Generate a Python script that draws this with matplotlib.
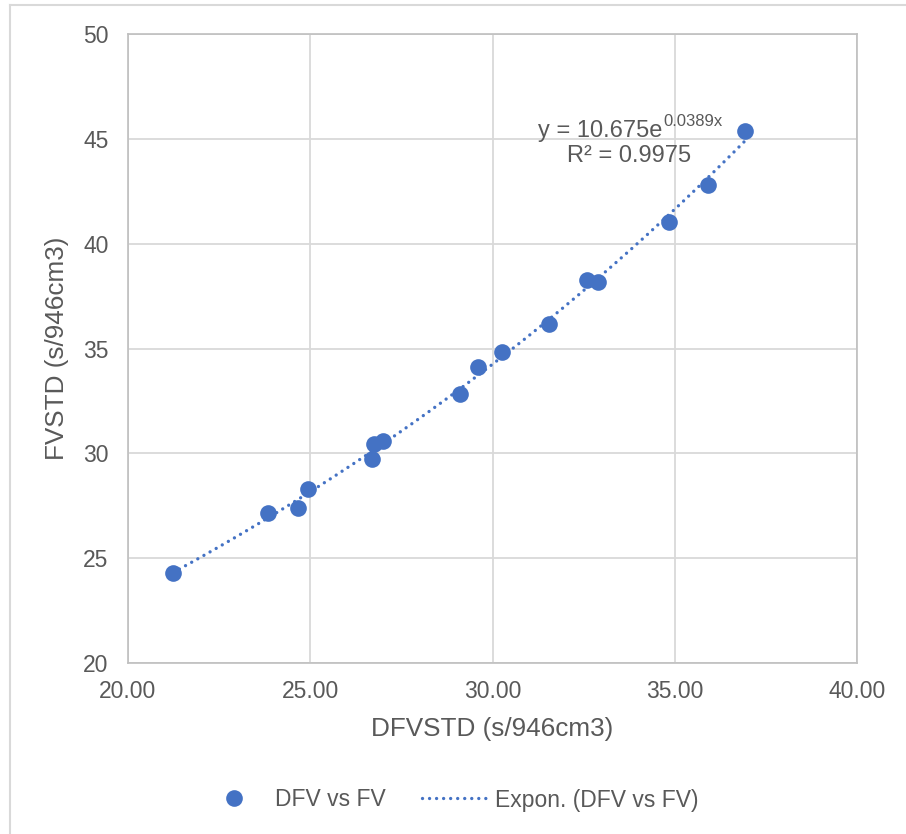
import numpy as np
import matplotlib
matplotlib.use("Agg")
import matplotlib.pyplot as plt
from matplotlib.lines import Line2D

plt.rcParams['font.family'] = ['Liberation Sans', 'DejaVu Sans']

# Data
dfv_std = [21.24, 23.85, 24.66, 24.93, 26.70, 26.75, 27.00, 29.11, 29.61,
           30.27, 31.56, 32.58, 32.90, 34.84, 35.91, 36.93]
fv_std = [24.28, 27.14, 27.38, 28.28, 29.71, 30.43, 30.60, 32.83, 34.10,
          34.83, 36.17, 38.26, 38.18, 41.03, 42.79, 45.37]
x_ticks = [20, 25, 30, 35, 40]
y_ticks = [20, 25, 30, 35, 40, 45, 50]
eq_base = "y = 10.675e"
eq_exp = "0.0389x"
r2_text = "R² = 0.9975"

blue = "#4472C4"
txt = "#595959"
grid = "#D9D9D9"

W, H = 906, 834
fig = plt.figure(figsize=(W/100, H/100), dpi=100)
ax = fig.add_axes([128/W, 1-663/H, (857-128)/W, (663-34)/H])

x = np.array(dfv_std)
y = np.array(fv_std)
# Exponential trendline (least squares on log y, like Excel)
b, ln_a = np.polyfit(x, np.log(y), 1)
xt = np.linspace(x.min(), x.max(), 300)
yt = np.exp(ln_a) * np.exp(b * xt)

ax.plot(x, y, 'o', color=blue, markersize=12, markeredgewidth=0, zorder=3,
        label="DFV vs FV")
ax.plot(xt, yt, color=blue, linewidth=2.4, linestyle=(0, (0.01, 2.1)),
        dash_capstyle='round', zorder=2, label="Expon. (DFV vs FV)")

ax.set_xlim(20, 40)
ax.set_ylim(20, 50)
ax.set_xticks(x_ticks)
ax.set_yticks(y_ticks)
ax.set_xticklabels([f"{v:.2f}" for v in x_ticks])
ax.set_yticklabels([str(v) for v in y_ticks])
ax.grid(True, color=grid, linewidth=1.3)
ax.set_axisbelow(True)
for s in ax.spines.values():
    s.set_color("#BFBFBF")
    s.set_linewidth(1.2)
ax.tick_params(length=0, labelsize=16.5, colors=txt, pad=14)
ax.tick_params(axis='x', pad=12)

ax.set_xlabel("DFVSTD (s/946cm3)", fontsize=18.8, color=txt, labelpad=10)
ax.set_ylabel("FVSTD (s/946cm3)", fontsize=18.8, color=txt, labelpad=10)

def fxy(xp, yp):
    return (xp / W, 1 - yp / H)

fig.text(*fxy(538, 131), eq_base, fontsize=17, color=txt,
         ha='left', va='center')
fig.text(*fxy(663, 122), eq_exp, fontsize=12, color=txt,
         ha='left', va='center')
fig.text(*fxy(629, 156), r2_text, fontsize=17, color=txt,
         ha='center', va='center')

leg = fig.legend(loc='center', bbox_to_anchor=fxy(450, 800), ncol=2,
                 frameon=False, fontsize=16.5, handlelength=2.9,
                 columnspacing=1.6, handletextpad=0.3)
for t in leg.get_texts():
    t.set_color(txt)

# outer chart border (left and top visible)
fig.add_artist(Line2D([9.5/W, 9.5/W], [0, 1-5/H], color=grid,
                      linewidth=1.5, transform=fig.transFigure))
fig.add_artist(Line2D([9.5/W, 1], [1-5/H, 1-5/H], color=grid,
                      linewidth=1.5, transform=fig.transFigure))

fig.savefig("out.png", dpi=100)
